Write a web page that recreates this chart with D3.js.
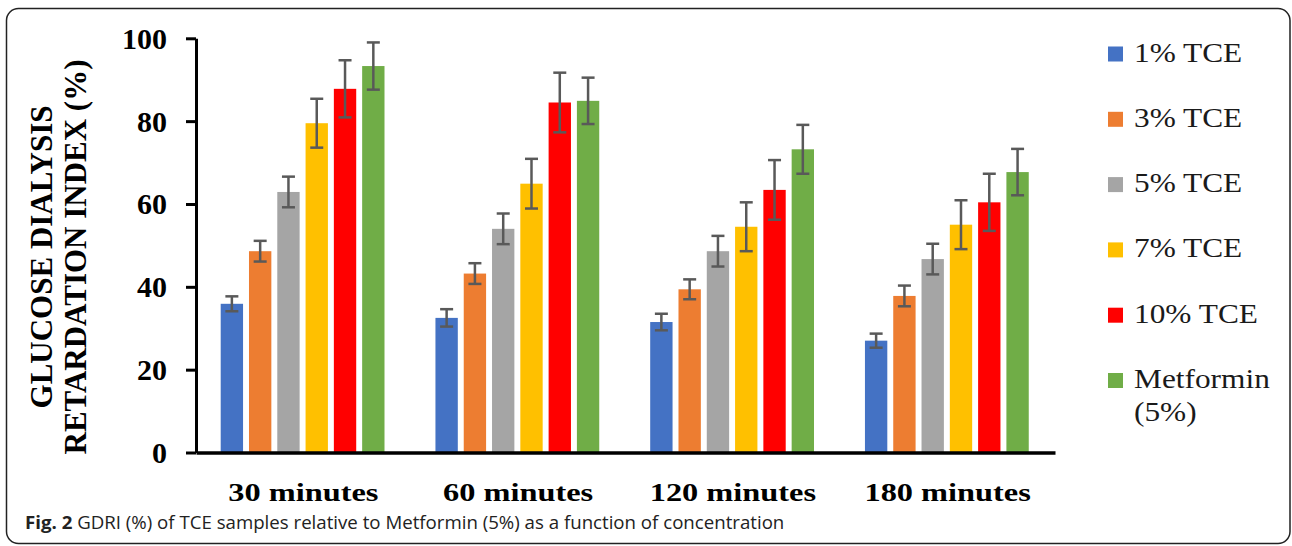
<!DOCTYPE html>
<html>
<head>
<meta charset="utf-8">
<script src="https://cdn.jsdelivr.net/npm/d3@7"></script>
<style>
  html, body { margin: 0; padding: 0; background: #fff; }
  svg { display: block; }
</style>
</head>
<body>
<svg id="chart" width="1292" height="546"></svg>
<script>
// ---------- data ----------
const categories = ["30 minutes", "60 minutes", "120 minutes", "180 minutes"];
const series = ["1% TCE", "3% TCE", "5% TCE", "7% TCE", "10% TCE", "Metformin (5%)"];
const legendLines = [["1% TCE"], ["3% TCE"], ["5% TCE"], ["7% TCE"], ["10% TCE"], ["Metformin", "(5%)"]];
const colors = ["#4472C4", "#ED7D31", "#A5A5A5", "#FFC000", "#FF0000", "#70AD47"];

const tce1 = [35.9, 32.5, 31.5, 27.0];
const tce3 = [48.6, 43.2, 39.4, 37.8];
const tce5 = [62.9, 54.0, 48.6, 46.7];
const tce7 = [79.5, 64.9, 54.5, 55.0];
const tce10 = [87.8, 84.5, 63.4, 60.4];
const metformin = [93.3, 84.9, 73.2, 67.7];

const err1 = [1.8, 2.1, 2.0, 1.7];
const err3 = [2.5, 2.5, 2.4, 2.5];
const err5 = [3.7, 3.7, 3.7, 3.7];
const err7 = [5.9, 6.0, 5.9, 5.9];
const err10 = [6.9, 7.2, 7.2, 6.9];
const errMet = [5.7, 5.6, 5.9, 5.6];

const yTicks = [0, 20, 40, 60, 80, 100];
const yTitleLines = ["GLUCOSE DIALYSIS", "RETARDATION INDEX (%)"];
const captionBold = "Fig. 2";
const captionText = " GDRI (%) of TCE samples relative to Metformin (5%) as a function of concentration";

const values = [tce1, tce3, tce5, tce7, tce10, metformin];
const errors = [err1, err3, err5, err7, err10, errMet];

// ---------- layout ----------
const svg = d3.select("#chart");
const serif = "'Liberation Serif', 'Times New Roman', serif";

// frame
svg.append("rect")
  .attr("x", 6.5).attr("y", 8.5).attr("width", 1283.5).attr("height", 535)
  .attr("rx", 12).attr("ry", 12)
  .attr("fill", "#fff").attr("stroke", "#222").attr("stroke-width", 1.5);

const x0 = d3.scaleBand().domain(categories).range([196, 1055]).paddingInner(0).paddingOuter(0);
const x1 = d3.scaleBand().domain(series).range([24.7, 188.5]).paddingInner(0.21).paddingOuter(0);
const y = d3.scaleLinear().domain([0, 100]).range([452.5, 38.3]);

const rows = [];
series.forEach((s, si) => {
  categories.forEach((c, ci) => {
    rows.push({ s, si, c, v: values[si][ci], e: errors[si][ci] });
  });
});

// bars
const plot = svg.append("g");
plot.selectAll("rect.bar").data(rows).enter().append("rect")
  .attr("class", "bar")
  .attr("x", d => x0(d.c) + x1(d.s))
  .attr("y", d => y(d.v))
  .attr("width", x1.bandwidth())
  .attr("height", d => y(0) - y(d.v))
  .attr("fill", d => colors[d.si]);

// error bars
const capHalf = 6.5;
const eb = plot.selectAll("g.err").data(rows).enter().append("g").attr("class", "err")
  .attr("stroke", "#595959").attr("stroke-width", 2.5).attr("fill", "none");
eb.append("line")
  .attr("x1", d => x0(d.c) + x1(d.s) + x1.bandwidth() / 2)
  .attr("x2", d => x0(d.c) + x1(d.s) + x1.bandwidth() / 2)
  .attr("y1", d => y(d.v + d.e)).attr("y2", d => y(d.v - d.e));
eb.append("line")
  .attr("x1", d => x0(d.c) + x1(d.s) + x1.bandwidth() / 2 - capHalf)
  .attr("x2", d => x0(d.c) + x1(d.s) + x1.bandwidth() / 2 + capHalf)
  .attr("y1", d => y(d.v + d.e)).attr("y2", d => y(d.v + d.e));
eb.append("line")
  .attr("x1", d => x0(d.c) + x1(d.s) + x1.bandwidth() / 2 - capHalf)
  .attr("x2", d => x0(d.c) + x1(d.s) + x1.bandwidth() / 2 + capHalf)
  .attr("y1", d => y(d.v - d.e)).attr("y2", d => y(d.v - d.e));

// y axis
const yAxis = svg.append("g").attr("transform", "translate(196,0)")
  .call(d3.axisLeft(y).tickValues(yTicks).tickSize(10).tickPadding(19).tickSizeOuter(0));
yAxis.select(".domain").attr("stroke", "#000").attr("stroke-width", 3);
yAxis.selectAll(".tick line").attr("stroke", "#000").attr("stroke-width", 3);
yAxis.selectAll(".tick text")
  .attr("font-family", serif).attr("font-weight", "bold").attr("font-size", "30px")
  .attr("fill", "#000").attr("dy", "0.33em");

// x axis
const xAxis = svg.append("g").attr("transform", `translate(0,${y(0)})`)
  .call(d3.axisBottom(x0).tickSize(0).tickSizeOuter(0));
xAxis.select(".domain").attr("stroke", "#000").attr("stroke-width", 3.5);
xAxis.selectAll(".tick text")
  .attr("font-family", serif).attr("font-weight", "bold").attr("font-size", "25.5px")
  .attr("fill", "#000").attr("y", 49).attr("dy", 0)
  .attr("transform", "scale(1.27,1)");

// y title
const yTitle = svg.append("g").attr("transform", "translate(0,257)");
yTitleLines.forEach((t, i) => {
  yTitle.append("text")
    .attr("transform", `translate(${52 + i * 34},0) rotate(-90)`)
    .attr("text-anchor", "middle")
    .attr("font-family", serif).attr("font-weight", "bold").attr("font-size", "31px")
    .attr("fill", "#000")
    .text(t);
});

// legend
const legend = svg.append("g").attr("transform", "translate(1108,0)");
const legendY = d3.scalePoint().domain(series).range([54, 380.5]);
series.forEach((s, i) => {
  const g = legend.append("g").attr("transform", `translate(0,${legendY(s)})`);
  g.append("rect").attr("x", 0).attr("y", -7.5).attr("width", 15).attr("height", 15).attr("fill", colors[i]);
  legendLines[i].forEach((line, li) => {
    g.append("text")
      .attr("transform", `translate(26,${7.5 + li * 33}) scale(1.12,1)`)
      .attr("font-family", serif).attr("font-size", "28px").attr("fill", "#1a1a1a")
      .text(line);
  });
});

// caption
const cap = svg.append("g").attr("transform", "translate(25,528.5)");
const capText = cap.append("text")
  .attr("font-family", "'Open Sans', 'Noto Sans', sans-serif").attr("font-size", "17.5px").attr("fill", "#222");
capText.append("tspan").attr("font-weight", "bold").text(captionBold);
capText.append("tspan").text(captionText);
const w = capText.node().getComputedTextLength();
capText.attr("transform", `scale(${760 / w},1)`);
</script>
</body>
</html>
